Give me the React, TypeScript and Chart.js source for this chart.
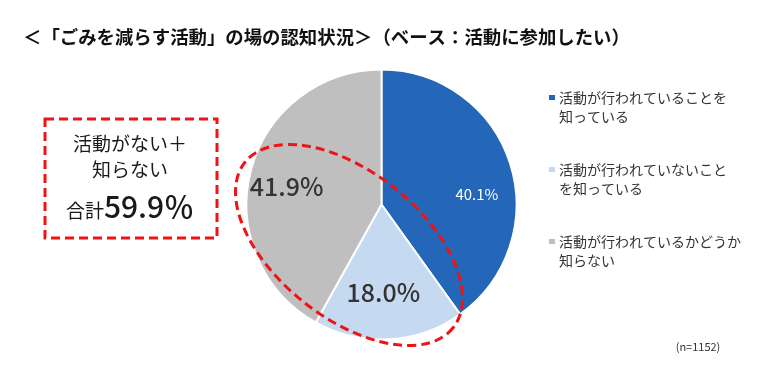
import React, { useEffect, useRef } from "react";
import { Chart, registerables } from "chart.js";

Chart.register(...registerables);

// ---- data ----
const categories: string[][] = [
  ["活動が行われていることを", "知っている"],
  ["活動が行われていないこと", "を知っている"],
  ["活動が行われているかどうか", "知らない"],
];
const values: number[] = [40.1, 18.0, 41.9];
const colors: string[] = ["#2467B8", "#C5D9F1", "#BFBFBF"];
const titleText = "＜「ごみを減らす活動」の場の認知状況＞（ベース：活動に参加したい）";
const sampleNote = "(n=1152)";
const calloutLines: string[] = ["活動がない＋", "知らない"];
const calloutPrefix = "合計";
const calloutTotal = "59.9";

const JP = '"Noto Sans CJK JP", "Noto Sans", sans-serif';
const RED = "#EE1414";

// label placement style (angle offset in degrees, radius fraction, font size, color, weight)
const labelStyle = [
  { dAng: 12, frac: 0.71, size: 15, color: "#ffffff", weight: "normal" },
  { dAng: 2, frac: 0.655, size: 25, color: "#333333", weight: "500" },
  { dAng: -4, frac: 0.715, size: 25, color: "#333333", weight: "500" },
];

const overlayPlugin = {
  id: "overlay",
  afterDatasetsDraw(chart: any) {
    const ctx: CanvasRenderingContext2D = chart.ctx;
    const meta = chart.getDatasetMeta(0);
    ctx.save();

    // slice labels
    meta.data.forEach((arc: any, i: number) => {
      const p = arc.getProps(["x", "y", "startAngle", "endAngle", "outerRadius"], true);
      const st = labelStyle[i];
      const mid = (p.startAngle + p.endAngle) / 2 + (st.dAng * Math.PI) / 180;
      const r = p.outerRadius * st.frac;
      ctx.font = `${st.weight} ${st.size}px ${JP}`;
      ctx.fillStyle = st.color;
      ctx.textAlign = "center";
      ctx.textBaseline = "middle";
      ctx.fillText(values[i].toFixed(1) + "%", p.x + Math.cos(mid) * r, p.y + Math.sin(mid) * r);
    });

    // dashed ellipse around the two "not knowing" slices
    const c = meta.data[0].getProps(["x", "y", "outerRadius"], true);
    ctx.strokeStyle = RED;
    ctx.lineWidth = 3;
    ctx.setLineDash([9, 5]);
    ctx.beginPath();
    ctx.ellipse(c.x - 32.5, c.y + 40.5, c.outerRadius * 0.985, c.outerRadius * 0.54, (38.5 * Math.PI) / 180, 0, Math.PI * 2);
    ctx.stroke();

    // callout box
    ctx.strokeRect(45, 119, 172, 119);
    ctx.setLineDash([]);

    ctx.fillStyle = "#1a1a1a";
    ctx.textAlign = "center";
    ctx.textBaseline = "middle";
    ctx.font = `19px ${JP}`;
    ctx.fillText(calloutLines[0], 130, 144);
    ctx.fillText(calloutLines[1], 130, 170);
    ctx.textBaseline = "alphabetic";
    ctx.font = `19px ${JP}`;
    const w1 = ctx.measureText(calloutPrefix).width;
    ctx.font = `500 30px ${JP}`;
    const big = calloutTotal + "％";
    const w2 = ctx.measureText(big).width;
    const x0 = 130 - (w1 + w2) / 2;
    ctx.textAlign = "left";
    ctx.font = `19px ${JP}`;
    ctx.fillText(calloutPrefix, x0, 218);
    ctx.font = `500 30px ${JP}`;
    ctx.fillText(big, x0 + w1, 218);

    // title
    ctx.fillStyle = "#111111";
    ctx.font = `bold 18.4px ${JP}`;
    ctx.textAlign = "left";
    ctx.textBaseline = "middle";
    ctx.fillText(titleText, 23, 37);

    // legend
    const legendY = [98, 170, 242];
    categories.forEach((lines, i) => {
      ctx.fillStyle = colors[i];
      ctx.fillRect(549, legendY[i] - 3, 6, 5);
      ctx.fillStyle = "#333333";
      ctx.font = `14px ${JP}`;
      ctx.textAlign = "left";
      ctx.textBaseline = "middle";
      lines.forEach((ln, j) => ctx.fillText(ln, 559, legendY[i] + j * 18.5));
    });

    // n note
    ctx.fillStyle = "#333333";
    ctx.font = `11px ${JP}`;
    ctx.textAlign = "center";
    ctx.fillText(sampleNote, 698, 347);

    ctx.restore();
  },
};

export default function App() {
  const ref = useRef<HTMLCanvasElement | null>(null);
  useEffect(() => {
    if (!ref.current) return;
    const chart = new Chart(ref.current, {
      type: "pie",
      data: {
        labels: categories,
        datasets: [
          {
            data: values,
            backgroundColor: colors,
            borderColor: "#ffffff",
            borderWidth: 2,
          },
        ],
      },
      options: {
        responsive: false,
        animation: false,
        devicePixelRatio: 1,
        radius: 135,
        layout: { padding: { left: 0, right: 17, top: 25, bottom: 0 } },
        plugins: {
          legend: { display: false },
          tooltip: { enabled: false },
          title: { display: false },
        },
        events: [],
      } as any,
      plugins: [overlayPlugin],
    });
    return () => chart.destroy();
  }, []);
  return (
    <div style={{ position: "absolute", left: 0, top: 0, width: 780, height: 384, background: "#fff" }}>
      <canvas ref={ref} width={780} height={384} />
    </div>
  );
}
